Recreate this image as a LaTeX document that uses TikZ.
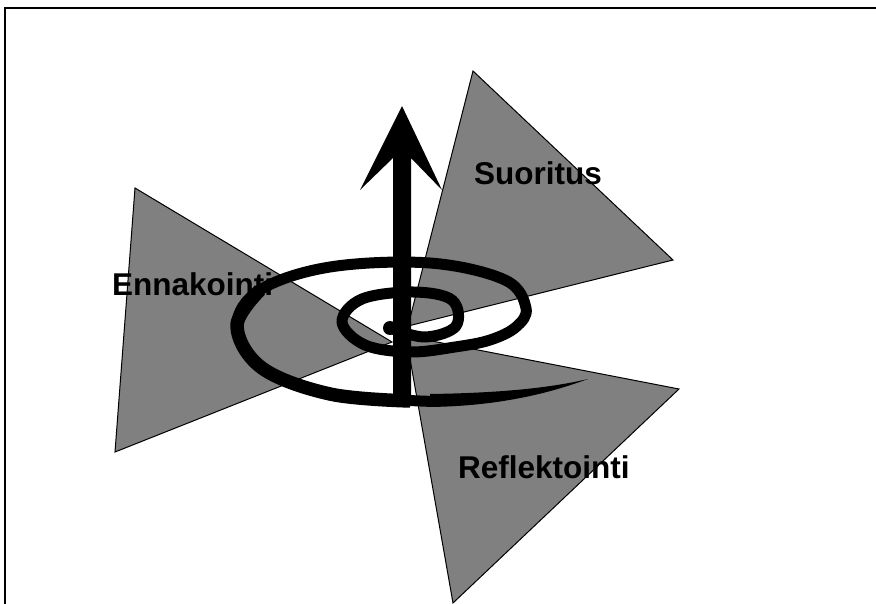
\documentclass[tikz,border=0pt]{standalone}
\usepackage{fontspec}
\setmainfont{Liberation Sans}
\definecolor{gray50}{HTML}{808080}
\begin{document}
\begin{tikzpicture}[x=1pt,y=-1pt,
  tri/.style={fill=gray50, draw=black, line width=1pt, line join=miter},
  lbl/.style={anchor=base west, inner sep=0pt, font=\bfseries\fontsize{31.5}{36}\selectfont},
  spiralline/.style={line width=11pt, line cap=round, line join=round},
  spiralheavy/.style={line width=13.5pt, line cap=butt, line join=round},
  frameline/.style={line width=2pt}]
\useasboundingbox (0,0) rectangle (876,604);
\draw[frameline] (5,604) -- (5,8) -- (876,8);
% triangles
\filldraw[tri] (473,71) -- (673,260) -- (408,326) -- cycle;
\filldraw[tri] (135,188) -- (392,342) -- (115,452) -- cycle;
\filldraw[tri] (406,336) -- (679,389) -- (453,603) -- cycle;
% labels
\node[lbl] (suor) at (474,185) {Suoritus};
\node[lbl] (enna) at (112,295) {Ennakointi};
\node[lbl] (refl) at (458,478) {Reflektointi};
% spiral
\draw[spiralline] plot[smooth, tension=0.6] coordinates {
 (390,328) (425,337) (456,326) (452,300) (413,292) (362,299) (342,322)
 (365,345) (410,352) (455,347) (490,340) (516,327) (526,308) (505,280)
 (430,263) (330,267) (260,290) (237,326) (262,368) (330,394) (420,401) (440,400)};
\draw[spiralheavy] plot[smooth, tension=0.6] coordinates {
 (260,290) (237,326) (262,368) (330,394) (410,401)};
\fill[black] (430,394) .. controls (500,393) and (550,388) .. (588,379)
  .. controls (550,393) and (500,406) .. (430,407) -- cycle;
\fill[black] (390,328) circle (7);
% arrow
\fill[black] (402,106) -- (442,190) -- (411,158) -- (411,405) -- (393,405)
  -- (393,158) -- (360,190) -- cycle;
\end{tikzpicture}
\end{document}
